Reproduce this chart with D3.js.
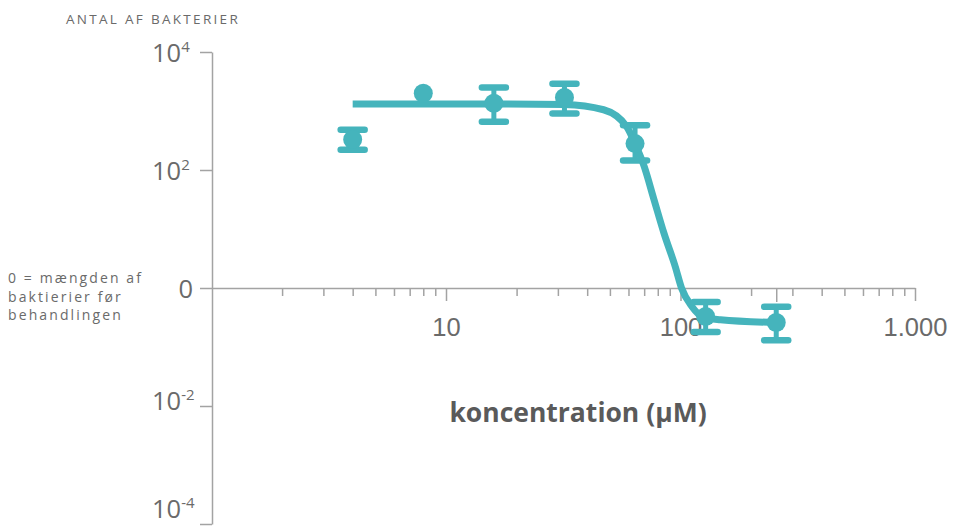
<!DOCTYPE html>
<html lang="da">
<head>
<meta charset="utf-8">
<script src="https://cdn.jsdelivr.net/npm/d3@7"></script>
<style>
  html, body { margin: 0; padding: 0; background: #fff; }
  svg { display: block; font-family: "Open Sans", "Noto Sans", sans-serif; }
</style>
</head>
<body>
<svg id="chart" width="953" height="526"></svg>
<script>
// Concentration of each measurement (µM)
const concentrations = [4, 8, 16, 32, 64, 128, 256];
// Bacteria count relative to the count before treatment
const counts = [330, 2000, 1350, 1700, 280, 0.33, 0.26];
// Error bar limits (null = no bar)
const errLow  = [220, null, 660, 910, 145, 0.18, 0.13];
const errHigh = [480, null, 2500, 2900, 575, 0.58, 0.48];

// Fitted dose–response curve, sampled along its length
const fitConc  = [4, 8, 16, 32, 47, 59, 64, 70, 77, 85, 95, 101, 112, 125, 148, 256];
const fitCount = [1320, 1320, 1320, 1290, 1050, 540, 280, 115, 32, 8.5, 2.3, 1.0, 0.48, 0.32, 0.29, 0.26];

// Axis ticks
const xMajorTicks = [10, 100, 1000];
const xMinorTicks = [2, 3, 4, 5, 6, 7, 8, 9, 20, 30, 40, 50, 60, 70, 80, 90,
                     200, 300, 400, 500, 600, 700, 800, 900];
const xMarkTicks = [256];
const yExponents = [4, 2, 0, -2, -4];

const teal = "#45b4bc";
const axisGrey = "#a3a3a3";
const textGrey = "#6a6a6a";

const svg = d3.select("#chart");

const x = d3.scaleLog().domain([1, 1000]).range([211.5, 915]);
const y = d3.scaleLog().domain([1e-4, 1e4]).range([524, 52]);

const daLocale = d3.formatLocale({ decimal: ",", thousands: ".", grouping: [3], currency: ["", " kr."] });
const fmt = daLocale.format(",d");

// ---- x axis (crosses at 10^0) ----
const x0 = y(1);
const xMinor = svg.append("g")
  .attr("transform", `translate(0,${x0})`)
  .call(d3.axisBottom(x).tickValues(xMinorTicks).tickSize(8).tickSizeOuter(0).tickFormat(""));
const xMark = svg.append("g")
  .attr("transform", `translate(0,${x0})`)
  .call(d3.axisBottom(x).tickValues(xMarkTicks).tickSize(14).tickSizeOuter(0).tickFormat(""));
xMark.select(".domain").remove();
const xMajor = svg.append("g")
  .attr("transform", `translate(0,${x0})`)
  .call(d3.axisBottom(x).tickValues(xMajorTicks).tickSize(13).tickSizeOuter(0).tickFormat(fmt));
xMajor.select(".domain").remove();

[xMinor, xMajor, xMark].forEach(g => {
  g.selectAll(".domain, .tick line").attr("stroke", axisGrey).attr("stroke-width", 1.5);
});
xMajor.selectAll(".tick text")
  .attr("fill", textGrey)
  .attr("font-size", 25.5)
  .attr("y", 0)
  .attr("dy", 0)
  .attr("transform", "translate(0,48)");

// ---- y axis ----
const yAxis = svg.append("g")
  .attr("transform", `translate(212,0)`)
  .call(d3.axisLeft(y).tickValues(yExponents.map(e => Math.pow(10, e))).tickSize(12).tickSizeOuter(0).tickFormat(""));
yAxis.selectAll(".domain, .tick line").attr("stroke", axisGrey).attr("stroke-width", 1.5);

const yLabels = svg.append("g").attr("fill", textGrey);
yExponents.forEach(e => {
  const ty = y(Math.pow(10, e));
  if (e === 0) {
    yLabels.append("text")
      .attr("x", 193).attr("y", ty + 10)
      .attr("text-anchor", "end")
      .attr("font-size", 25.5)
      .text("0");
  } else {
    // keep the lowest label inside the drawing area
    const base = e < 0 ? Math.min(ty + 3.5, 518) : ty + 10;
    const t = yLabels.append("text")
      .attr("x", 152).attr("y", base)
      .attr("font-size", 25.5);
    t.append("tspan").text("10");
    t.append("tspan")
      .attr("font-size", 15)
      .attr("dy", -10)
      .text(String(e));
  }
});

// ---- titles ----
svg.append("text")
  .attr("x", 66).attr("y", 24)
  .attr("fill", textGrey)
  .attr("font-size", 13.5)
  .attr("letter-spacing", 2.3)
  .text("ANTAL AF BAKTERIER");

svg.append("text")
  .attr("x", 578).attr("y", 422)
  .attr("text-anchor", "middle")
  .attr("fill", "#5a5a5a")
  .attr("font-size", 26.5)
  .attr("font-weight", 700)
  .text("koncentration (µM)");

const note = svg.append("text")
  .attr("fill", textGrey)
  .attr("font-size", 14)
  .attr("letter-spacing", 2.1);
["0 = mængden af", "baktierier før", "behandlingen"].forEach((line, i) => {
  note.append("tspan").attr("x", 8).attr("y", 283 + i * 18.5).text(line);
});

// ---- fitted curve ----
const line = d3.line()
  .x((d, i) => x(fitConc[i]))
  .y((d, i) => y(fitCount[i]))
  .curve(d3.curveMonotoneX);

svg.append("path")
  .attr("d", line(fitConc))
  .attr("fill", "none")
  .attr("stroke", teal)
  .attr("stroke-width", 7);

// ---- error bars and points ----
const pts = svg.append("g");
concentrations.forEach((c, i) => {
  const cx = x(c);
  if (errLow[i] != null) {
    const y1 = y(errLow[i]), y2 = y(errHigh[i]);
    pts.append("line")
      .attr("x1", cx).attr("x2", cx).attr("y1", y1).attr("y2", y2)
      .attr("stroke", teal).attr("stroke-width", 5);
    [y1, y2].forEach(cy => {
      pts.append("line")
        .attr("x1", cx - 12).attr("x2", cx + 12).attr("y1", cy).attr("y2", cy)
        .attr("stroke", teal).attr("stroke-width", 6.5).attr("stroke-linecap", "round");
    });
  }
  pts.append("circle")
    .attr("cx", cx).attr("cy", y(counts[i]))
    .attr("r", 9.5)
    .attr("fill", teal);
});
</script>
</body>
</html>
